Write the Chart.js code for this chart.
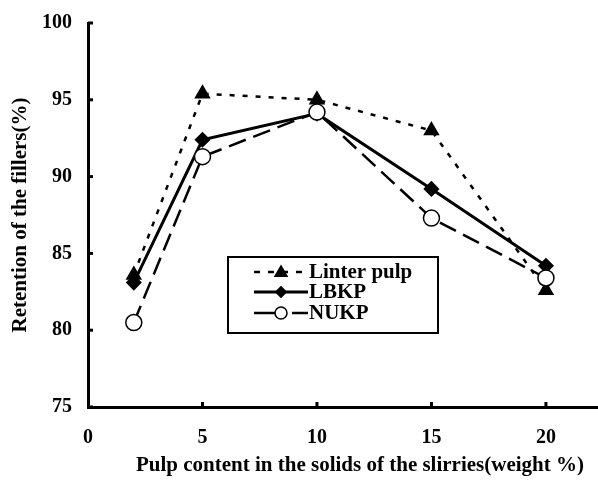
<!DOCTYPE html>
<html><head><meta charset="utf-8">
<script src="https://cdn.jsdelivr.net/npm/chart.js@4"></script>
<style>html,body{margin:0;padding:0;background:#fff}</style>
</head><body>
<canvas id="c" width="598" height="483"></canvas>
<script>
const xValues = [2, 5, 10, 15, 20];
const linterPulp = [83.6, 95.4, 95.0, 93.0, 82.6];
const lbkp = [83.1, 92.4, 94.1, 89.2, 84.2];
const nukp = [80.5, 91.3, 94.2, 87.3, 83.4];
const seriesNames = ['Linter pulp', 'LBKP', 'NUKP'];
const xTicks = [0, 5, 10, 15, 20];
const yTicks = [75, 80, 85, 90, 95, 100];
const xTitle = 'Pulp content in the solids of the slirries(weight %)';
const yTitle = 'Retention of the fillers(%)';

const FONT = "'Liberation Serif','Times New Roman',serif";
const pts = arr => arr.map((v, i) => ({x: xValues[i], y: v}));

const styles = [
  {dash: [5, 8], legDash: [6, 8], width: 2.5, point: 'triangle', radius: 8, fill: '#000'},
  {dash: [], legDash: [], width: 3, point: 'rectRot', radius: 7, fill: '#000'},
  {dash: [18, 8], legDash: [30, 8], width: 2.5, point: 'circle', radius: 8, fill: '#fff'}
];

const insideTicks = {
  id: 'insideTicks',
  afterDraw(chart) {
    const ctx = chart.ctx, xs = chart.scales.x, ys = chart.scales.y;
    ctx.save();
    ctx.strokeStyle = '#000';
    ctx.lineWidth = 3;
    xTicks.forEach(t => {
      if (t === 0) return;
      const px = xs.getPixelForValue(t);
      ctx.beginPath(); ctx.moveTo(px, ys.bottom); ctx.lineTo(px, ys.bottom - 5); ctx.stroke();
    });
    yTicks.forEach(t => {
      const py = ys.getPixelForValue(t);
      ctx.beginPath(); ctx.moveTo(xs.left, py); ctx.lineTo(xs.left + 5, py); ctx.stroke();
    });
    // x axis title (offset right like the original)
    ctx.fillStyle = '#000';
    ctx.font = 'bold 21px ' + FONT;
    ctx.textAlign = 'center';
    ctx.textBaseline = 'middle';
    ctx.fillText(xTitle, 360, 466);
    // legend box
    const bx = 228, by = 257, bw = 210, bh = 76;
    ctx.fillStyle = '#fff';
    ctx.fillRect(bx, by, bw, bh);
    ctx.lineWidth = 2;
    ctx.strokeRect(bx, by, bw, bh);
    const rows = [272, 292, 313];
    styles.forEach((s, i) => {
      const y = rows[i];
      ctx.setLineDash(s.legDash);
      ctx.lineWidth = s.width;
      ctx.beginPath(); ctx.moveTo(254, y); ctx.lineTo(308, y); ctx.stroke();
      ctx.setLineDash([]);
      ctx.fillStyle = s.fill;
      ctx.lineWidth = 1.5;
      const cx = 281, r = s.radius * 0.75;
      ctx.beginPath();
      if (s.point === 'triangle') {
        ctx.moveTo(cx, y - r); ctx.lineTo(cx + r, y + r * 0.7); ctx.lineTo(cx - r, y + r * 0.7); ctx.closePath();
      } else if (s.point === 'rectRot') {
        ctx.moveTo(cx, y - r); ctx.lineTo(cx + r, y); ctx.lineTo(cx, y + r); ctx.lineTo(cx - r, y); ctx.closePath();
      } else {
        ctx.arc(cx, y, r, 0, Math.PI * 2);
      }
      ctx.fill(); ctx.stroke();
      ctx.fillStyle = '#000';
      ctx.font = 'bold 21px ' + FONT;
      ctx.textBaseline = 'middle';
      ctx.textAlign = 'left';
      ctx.fillText(seriesNames[i], 309, y + 1);
    });
    ctx.restore();
  }
};

new Chart(document.getElementById('c'), {
  type: 'line',
  data: {
    datasets: [linterPulp, lbkp, nukp].map((arr, i) => ({
      label: seriesNames[i],
      data: pts(arr),
      borderColor: '#000',
      borderWidth: styles[i].width,
      borderDash: styles[i].dash,
      pointStyle: styles[i].point,
      pointRadius: styles[i].radius,
      pointBackgroundColor: styles[i].fill,
      pointBorderColor: '#000',
      pointBorderWidth: 1.5,
      tension: 0,
      order: 2 - i
    }))
  },
  options: {
    responsive: false,
    animation: false,
    events: [],
    layout: {autoPadding: false, padding: {top: 23, right: 1, left: 0, bottom: 0}},
    plugins: {legend: {display: false}, tooltip: {enabled: false}},
    scales: {
      x: {
        type: 'linear', min: 0, max: 22.23,
        afterBuildTicks: s => { s.ticks = xTicks.map(v => ({value: v})); },
        afterFit: s => { s.height = 76; s.paddingLeft = 0; s.paddingRight = 0; },
        grid: {display: false, drawTicks: false},
        border: {display: true, color: '#000', width: 3},
        ticks: {color: '#000', font: {family: FONT, size: 20, weight: 'bold'}, padding: 19, maxRotation: 0},
        title: {display: false, text: xTitle}
      },
      y: {
        type: 'linear', min: 75, max: 100,
        afterBuildTicks: s => { s.ticks = yTicks.map(v => ({value: v})); },
        afterFit: s => { s.width = 88; s.paddingTop = 0; s.paddingBottom = 0; },
        grid: {display: false, drawTicks: false},
        border: {display: true, color: '#000', width: 3},
        ticks: {color: '#000', font: {family: FONT, size: 20, weight: 'bold'}, padding: 16},
        title: {display: true, text: yTitle, color: '#000', font: {family: FONT, size: 21, weight: 'bold'}, padding: {top: 8, bottom: 0}}
      }
    }
  },
  plugins: [insideTicks]
});
</script>
</body></html>
